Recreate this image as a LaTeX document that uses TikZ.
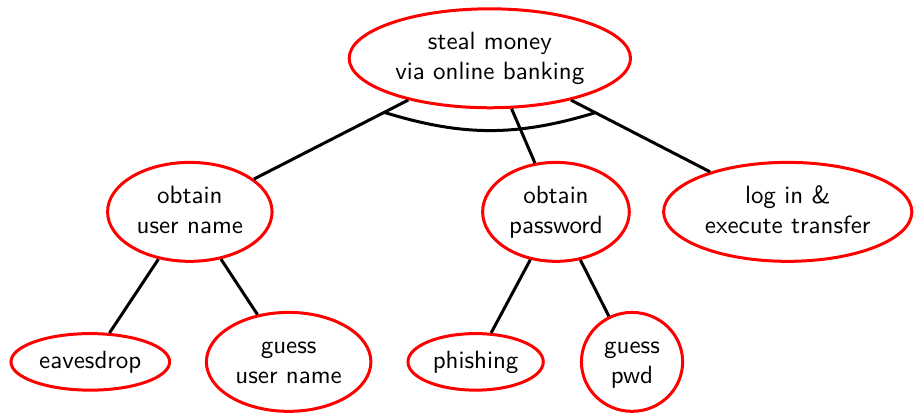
\documentclass[tikz,border=0pt]{standalone}
\usepackage{tikz}
\usetikzlibrary{shapes}
\usetikzlibrary{calc}
\usetikzlibrary{positioning}

\begin{document}
\begin{tikzpicture}[attack/.style={ellipse, draw=red, very thick, align=center, font=\sffamily, inner sep=2pt, minimum width=40.5pt, text height=8.5pt, text depth=3.5pt}, attack2/.style={attack, text height=20.5pt}, every path/.style={very thick}]
            \useasboundingbox (0,0) rectangle (12.87,-5.84);
            \node[attack2] (steal_money) at (6.89,-0.82) {steal money \\ via online banking};
            \node[attack2] (user_name) at (2.67,-2.98) {obtain \\ user name};
            \node[attack2] (password) at (7.82,-2.98) {obtain \\ password};
            \node[attack2] (transfer) at (11.08,-2.98) {log in \& \\ execute transfer};
            \node[attack] (eavesdrop) at (1.27,-5.09) {eavesdrop};
            \node[attack2] (guess_name) at (4.06,-5.09) {guess \\ user name};
            \node[attack] (phishing) at (6.69,-5.09) {phishing};
            \node[attack2] (guess_pwd) at (8.89,-5.09) {guess \\ pwd};
            \draw (steal_money) -- (user_name);
            \draw (steal_money) -- (password);
            \draw (steal_money) -- (transfer);
            \draw (user_name) -- (eavesdrop);
            \draw (user_name) -- (guess_name);
            \draw (password) -- (phishing);
            \draw (password) -- (guess_pwd);
            % AND arc
            \coordinate (and_left) at ($(steal_money.center)!47.5pt!(user_name.center)$);
            \coordinate (and_right) at ($(steal_money.center)!47.5pt!(transfer.center)$);
            \draw (and_left) to[bend right=17] (and_right);
        \end{tikzpicture}
\end{document}
